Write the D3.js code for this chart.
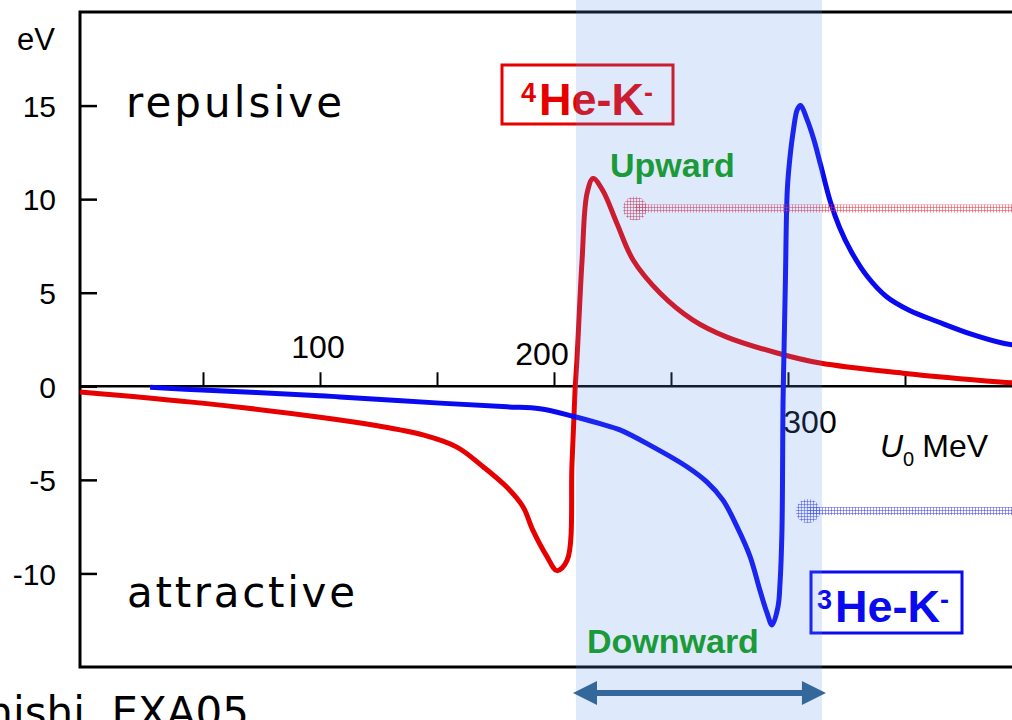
<!DOCTYPE html>
<html>
<head>
<meta charset="utf-8">
<script src="https://cdn.jsdelivr.net/npm/d3@7"></script>
<style>
  body { margin: 0; background: #fff; overflow: hidden; }
  svg { display: block; }
</style>
</head>
<body>
<script>
// values (U0 in MeV, shift in eV)
const he4U0 = [-2.5, 49.6, 100, 122.6, 144, 158.5, 169.7, 179.9, 186.8, 191, 197, 201.3, 205.6, 207.7, 209, 209.8, 212, 214.1, 216.7, 220.9, 226.9, 233.8, 245.3, 259.4, 273.9, 295.3, 313.7, 349.1, 390.6, 400];
const he4Ev = [-0.3, -0.9, -1.65, -2.07, -2.6, -3.25, -4.3, -5.4, -6.45, -7.7, -9.1, -9.85, -9.3, -4.1, -0.2, 1.4, 6.75, 10.3, 11.1, 10.45, 8.7, 6.75, 4.99, 3.54, 2.63, 1.78, 1.24, 0.7, 0.23, 0.15];
const he3U0 = [27.4, 49.6, 100, 108.5, 151.3, 179.9, 194, 208.1, 219.7, 228.2, 242.3, 256.8, 265.4, 272.2, 278.2, 283.8, 288, 291, 293.2, 295.7, 296.6, 297.4, 297.9, 298.3, 298.9, 299.7, 300.9, 302.2, 304, 305.4, 308, 311, 314, 318, 322, 327, 334, 342, 352, 364, 378, 392, 400];
const he3Ev = [-0.05, -0.2, -0.5, -0.57, -0.9, -1.1, -1.2, -1.6, -2.0, -2.33, -3.24, -4.3, -5.12, -6.08, -7.5, -9.1, -10.9, -12.1, -12.75, -11.8, -10.5, -7.8, -0.7, 1.9, 5.7, 10.5, 12.3, 13.6, 14.8, 15.0, 14.3, 13.2, 11.8, 9.9, 8.5, 7.2, 5.85, 4.8, 4.05, 3.45, 2.8, 2.3, 2.15];
const yTicks = [15, 10, 5, 0, -5, -10];
const xTicks = [50, 100, 150, 200, 250, 300, 350];
const xLabels = [100, 200, 300];
const bandU0 = [209.4, 314.5];
const markerU0 = [234.6, 308.5];
const markerEv = [9.5, -6.67];

const canvWidth = 1012, canvHeight = 720;
const svg = d3.select("body").append("svg")
    .attr("width", canvWidth)
    .attr("height", canvHeight);

const plot = {left: 80, top: 12, right: 1030, bottom: 667};
const sans = "Liberation Sans, Arial, sans-serif";

const xScale = d3.scaleLinear().domain([0, 400]).range([86, 1022]);
const yScale = d3.scaleLinear().domain([-15, 20]).range([667, 12]);

const defs = svg.append("defs");
defs.append("clipPath").attr("id", "clip")
  .append("rect")
    .attr("x", plot.left).attr("y", plot.top)
    .attr("width", plot.right - plot.left).attr("height", plot.bottom - plot.top);

// mesh patterns for the level markers
function mesh(id, color) {
  const p = defs.append("pattern").attr("id", id)
      .attr("width", 3).attr("height", 3).attr("patternUnits", "userSpaceOnUse");
  p.append("rect").attr("width", 3).attr("height", 1).attr("fill", color).attr("opacity", 0.5);
  p.append("rect").attr("width", 1).attr("height", 3).attr("fill", color).attr("opacity", 0.5);
}
mesh("meshRed", "#e8283c");
mesh("meshBlue", "#3a3ae8");

// frame
svg.append("path")
    .attr("d", `M${plot.right},${plot.top}H${plot.left}V${plot.bottom}H${plot.right}`)
    .attr("fill", "none").attr("stroke", "#000").attr("stroke-width", 3);

// y axis, ticks pointing inward
const yAxis = svg.append("g")
    .attr("transform", `translate(${plot.left},0)`)
    .call(d3.axisLeft(yScale).tickValues(yTicks).tickSizeInner(-17).tickSizeOuter(0)
      .tickPadding(24).tickFormat(d => String(d)));
yAxis.select(".domain").remove();
yAxis.selectAll(".tick line").attr("stroke-width", 2.5);
yAxis.selectAll(".tick text")
    .attr("font-family", sans)
    .attr("font-size", 30).attr("dy", "0.36em").attr("fill", "#000");

svg.append("text").attr("x", 55).attr("y", 50)
    .attr("text-anchor", "end")
    .attr("font-family", sans).attr("font-size", 31)
    .text("eV");

// zero line with upward ticks
svg.append("line")
    .attr("x1", plot.left).attr("x2", canvWidth)
    .attr("y1", yScale(0)).attr("y2", yScale(0))
    .attr("stroke", "#000").attr("stroke-width", 2.5);
const xAxis = svg.append("g")
    .attr("transform", `translate(0,${yScale(0)})`)
    .call(d3.axisTop(xScale).tickValues(xTicks).tickSize(14).tickFormat(""));
xAxis.select(".domain").remove();
xAxis.selectAll(".tick line").attr("stroke-width", 2);

const xLabelPlace = {100: {dx: -2, y: 358}, 200: {dx: -12, y: 365}, 300: {dx: 22, y: 433}};
svg.selectAll(".xlab").data(xLabels).enter().append("text")
    .attr("class", "xlab")
    .attr("x", d => xScale(d) + xLabelPlace[d].dx)
    .attr("y", d => xLabelPlace[d].y)
    .attr("text-anchor", "middle")
    .attr("font-family", sans).attr("font-size", 32)
    .text(d => d);

const uLab = svg.append("text").attr("x", 880).attr("y", 457)
    .attr("font-family", sans).attr("font-size", 32);
uLab.append("tspan").attr("font-style", "italic").text("U");
uLab.append("tspan").attr("font-size", 20).attr("dy", 9).text("0");
uLab.append("tspan").attr("dy", -9).attr("dx", 8).text("MeV");

// region labels
svg.append("text").attr("x", 126).attr("y", 117)
    .attr("font-family", "DejaVu Sans, sans-serif").attr("font-size", 42)
    .attr("textLength", 216).attr("lengthAdjust", "spacing")
    .text("repulsive");
svg.append("text").attr("x", 127).attr("y", 607)
    .attr("font-family", "DejaVu Sans, sans-serif").attr("font-size", 42)
    .attr("textLength", 228).attr("lengthAdjust", "spacing")
    .text("attractive");

// curves
const line = d3.line()
    .x(d => xScale(d[0]))
    .y(d => yScale(d[1]))
    .curve(d3.curveCatmullRom.alpha(0.5));
const curves = svg.append("g").attr("clip-path", "url(#clip)");
curves.append("path")
    .datum(d3.zip(he4U0, he4Ev))
    .attr("d", line)
    .attr("fill", "none").attr("stroke", "#e60000").attr("stroke-width", 5)
    .attr("stroke-linejoin", "round");
curves.append("path")
    .datum(d3.zip(he3U0, he3Ev))
    .attr("d", line)
    .attr("fill", "none").attr("stroke", "#0a0af0").attr("stroke-width", 5)
    .attr("stroke-linejoin", "round");

// level markers
["meshRed", "meshBlue"].forEach((pat, i) => {
  const cx = xScale(markerU0[i]), cy = yScale(markerEv[i]);
  svg.append("rect")
      .attr("x", cx).attr("y", cy - 4)
      .attr("width", canvWidth - cx).attr("height", 8)
      .attr("fill", `url(#${pat})`);
  svg.append("circle")
      .attr("cx", cx).attr("cy", cy).attr("r", 12)
      .attr("fill", `url(#${pat})`);
});

// legend boxes
function hyperLabel(x, y, w, h, tx, mass, color) {
  svg.append("rect").attr("x", x).attr("y", y).attr("width", w).attr("height", h)
      .attr("fill", "#fff").attr("stroke", color).attr("stroke-width", 3);
  const t = svg.append("text").attr("x", tx).attr("y", y + 50)
      .attr("font-family", sans)
      .attr("font-weight", "bold").attr("font-size", 45).attr("fill", color);
  t.append("tspan").attr("font-size", 27).attr("dy", -13).text(mass);
  t.append("tspan").attr("dy", 13).attr("dx", 3).text("He-K");
  t.append("tspan").attr("font-size", 27).attr("dy", -13).text("-");
}
hyperLabel(502, 65, 171, 59, 521, "4", "#e60000");
hyperLabel(811, 572, 151, 61, 817, "3", "#0a0af0");

// shaded band
svg.append("rect")
    .attr("x", xScale(bandU0[0])).attr("y", 0)
    .attr("width", xScale(bandU0[1]) - xScale(bandU0[0])).attr("height", canvHeight)
    .attr("fill", "rgb(97,143,240)").attr("fill-opacity", 0.2);

svg.append("text").attr("x", 610).attr("y", 177)
    .attr("font-family", sans)
    .attr("font-weight", "bold").attr("font-size", 34).attr("fill", "#1a9a38")
    .text("Upward");
svg.append("text").attr("x", 587).attr("y", 653)
    .attr("font-family", sans)
    .attr("font-weight", "bold").attr("font-size", 34).attr("fill", "#1a9a38")
    .text("Downward");

// double arrow under the band
const ax0 = xScale(bandU0[0]) - 3, ax1 = xScale(bandU0[1]) + 4, ay = 693;
svg.append("line")
    .attr("x1", ax0 + 20).attr("x2", ax1 - 20).attr("y1", ay).attr("y2", ay)
    .attr("stroke", "#35689a").attr("stroke-width", 6);
svg.append("path")
    .attr("d", `M${ax0},${ay}L${ax0 + 24},${ay - 12}L${ax0 + 24},${ay + 12}Z` +
               `M${ax1},${ay}L${ax1 - 24},${ay - 12}L${ax1 - 24},${ay + 12}Z`)
    .attr("fill", "#35689a");

// citation, cut by the page edge as in the original slide
svg.append("text").attr("x", 249).attr("y", 727)
    .attr("text-anchor", "end")
    .attr("font-family", "DejaVu Sans, sans-serif").attr("font-size", 42)
    .text("Ohnishi, EXA05");
</script>
</body>
</html>
